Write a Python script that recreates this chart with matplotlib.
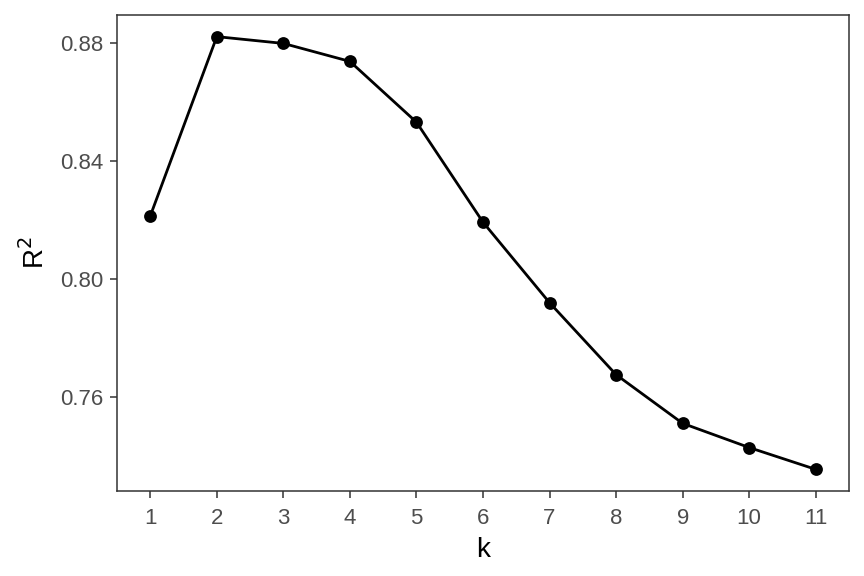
import matplotlib
matplotlib.use("Agg")
import matplotlib.pyplot as plt

k = [1, 2, 3, 4, 5, 6, 7, 8, 9, 10, 11]
r2 = [0.8212, 0.8820, 0.8797, 0.8736, 0.8530, 0.8191, 0.7918, 0.7674, 0.7509, 0.7427, 0.7353]
yticks = [0.76, 0.80, 0.84, 0.88]
ytick_labels = ["0.76", "0.80", "0.84", "0.88"]

plt.rcParams['font.family'] = ['Liberation Sans', 'DejaVu Sans']

fig = plt.figure(figsize=(8.64, 5.76), dpi=100)
ax = fig.add_axes([117/864, 1 - 491/576, (849 - 117)/864, (491 - 15)/576])

ax.plot(k, r2, color='black', linewidth=2.0, zorder=2)
ax.scatter(k, r2, s=85, color='black', zorder=3, linewidths=0)

ax.set_xlim(0.5, 11.5)
ymin, ymax = min(r2), max(r2)
pad = (ymax - ymin) * 0.05
ax.set_ylim(ymin - pad, ymax + pad)

ax.set_xticks(k)
ax.set_xticklabels([str(v) for v in k])
ax.set_yticks(yticks)
ax.set_yticklabels(ytick_labels)

for s in ax.spines.values():
    s.set_color('#333333')
    s.set_linewidth(1.1)

ax.tick_params(axis='both', colors='#333333', labelcolor='#4D4D4D', labelsize=16,
               length=5, width=1.1, direction='out')
ax.tick_params(axis='x', pad=7)
ax.tick_params(axis='y', pad=5)

ax.set_xlabel('k', fontsize=20, color='black', labelpad=6)
ax.set_ylabel(r'R$^2$', fontsize=20, color='black', labelpad=7)

fig.savefig('out.png', dpi=100)
